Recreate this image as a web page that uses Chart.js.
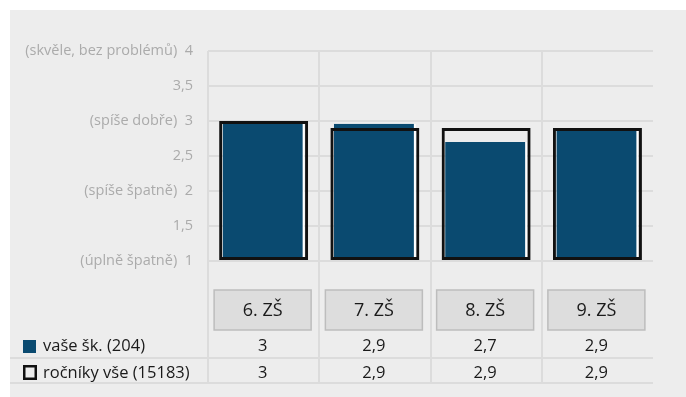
<!DOCTYPE html>
<html>
<head>
<meta charset="utf-8">
<script src="https://cdn.jsdelivr.net/npm/chart.js@4/dist/chart.umd.min.js"></script>
<style>
  html, body { margin: 0; padding: 0; background: #fff; }
  canvas { display: block; }
</style>
</head>
<body>
<canvas id="graf" width="686" height="397"></canvas>
<script>
// data
const categories = ['6. ZŠ', '7. ZŠ', '8. ZŠ', '9. ZŠ']
const skolaValues = [3, 2.96, 2.7, 2.9]
const rocnikyValues = [3, 2.9, 2.9, 2.9]
const skolaLabel = 'vaše šk. (204)'
const rocnikyLabel = 'ročníky vše (15183)'
const yTickNames = { 4: '(skvěle, bez problémů)', 3: '(spíše dobře)', 2: '(spíše špatně)', 1: '(úplně špatně)' }

const modra = '#0a4a70'
const font = '"Open Sans", "Noto Sans", sans-serif'

function cz(v) {
  // one decimal, cut not rounded, czech comma
  let t = Math.floor(v * 10 + 1e-9) / 10
  return String(t).replace('.', ',')
}

const tabulka = {
  id: 'tabulka',
  beforeDraw(chart) {
    let ctx = chart.ctx
    ctx.save()
    ctx.fillStyle = '#fff'
    ctx.fillRect(0, 0, chart.width, chart.height)
    ctx.fillStyle = '#ededed'
    ctx.fillRect(10, 10, chart.width - 10, chart.height - 10)
    ctx.restore()
  },
  beforeDatasetsDraw(chart) {
    let ctx = chart.ctx
    let a = chart.chartArea
    let w = (a.right - a.left) / categories.length
    ctx.save()
    ctx.strokeStyle = '#dcdcdc'
    ctx.lineWidth = 2
    for (let i = 0; i < categories.length; i++) {
      let px = Math.round(a.left + i * w)
      ctx.beginPath()
      ctx.moveTo(px, a.top)
      ctx.lineTo(px, 383)
      ctx.stroke()
    }
    ctx.restore()
  },
  afterDraw(chart) {
    let ctx = chart.ctx
    let x = chart.scales.x
    let a = chart.chartArea
    ctx.save()

    // table lines
    ctx.strokeStyle = '#dcdcdc'
    ctx.lineWidth = 2
    ;[358, 383].forEach(y => {
      ctx.beginPath()
      ctx.moveTo(10, y)
      ctx.lineTo(a.right, y)
      ctx.stroke()
    })

    // category boxes + values
    ctx.textAlign = 'center'
    ctx.textBaseline = 'middle'
    categories.forEach((c, i) => {
      let cx = x.getPixelForValue(i) - 1
      ctx.fillStyle = '#dddddd'
      ctx.fillRect(cx - 48.5, 290, 97, 40)
      ctx.strokeStyle = '#bdbdbd'
      ctx.lineWidth = 1.5
      ctx.strokeRect(cx - 48.5, 290, 97, 40)
      ctx.fillStyle = '#1a1a1a'
      ctx.font = '18px ' + font
      ctx.fillText(c, cx, 311)
      ctx.font = '16.5px ' + font
      ctx.fillText(cz(skolaValues[i]), cx, 346)
      ctx.fillText(cz(rocnikyValues[i]), cx, 373)
    })

    // legend
    ctx.fillStyle = modra
    ctx.fillRect(23, 340, 13, 13)
    ctx.strokeStyle = '#111'
    ctx.lineWidth = 2.5
    ctx.strokeRect(24.25, 366.25, 11.5, 12.5)
    ctx.fillStyle = '#1a1a1a'
    ctx.textAlign = 'left'
    ctx.fillText(skolaLabel, 43, 346)
    ctx.fillText(rocnikyLabel, 43, 373)
    ctx.restore()
  }
}

new Chart(document.getElementById('graf'), {
  type: 'bar',
  data: {
    labels: categories,
    datasets: [
      {
        label: rocnikyLabel,
        data: rocnikyValues,
        base: 1,
        backgroundColor: 'rgba(0,0,0,0)',
        borderColor: '#111',
        borderWidth: 3,
        borderSkipped: false,
        grouped: false,
        clip: false,
        categoryPercentage: 1,
        barPercentage: 0.8,
        order: 0
      },
      {
        label: skolaLabel,
        data: skolaValues,
        base: 1,
        backgroundColor: modra,
        borderColor: '#ffffff',
        borderWidth: { top: 0, left: 0, bottom: 0, right: 2 },
        borderSkipped: false,
        grouped: false,
        clip: false,
        categoryPercentage: 1,
        barPercentage: 0.737,
        order: 1
      }
    ]
  },
  options: {
    responsive: false,
    animation: false,
    devicePixelRatio: 1,
    layout: {
      padding: { left: 0, top: 51, right: 33, bottom: 136 }
    },
    plugins: {
      legend: { display: false },
      tooltip: { enabled: false }
    },
    scales: {
      x: {
        display: true,
        grid: { display: false, drawTicks: false },
        border: { display: false },
        ticks: { display: false }
      },
      y: {
        min: 1,
        max: 4,
        afterFit: scale => { scale.width = 208 },
        grid: { color: '#dcdcdc', lineWidth: 2, drawTicks: false },
        border: { display: false },
        ticks: {
          stepSize: 0.5,
          padding: 15,
          color: '#ababab',
          font: { family: font, size: 14.5 },
          callback: v => {
            let t = String(v).replace('.', ',')
            return yTickNames[v] ? yTickNames[v] + '  ' + t : t
          }
        }
      }
    }
  },
  plugins: [tabulka]
})
</script>
</body>
</html>
